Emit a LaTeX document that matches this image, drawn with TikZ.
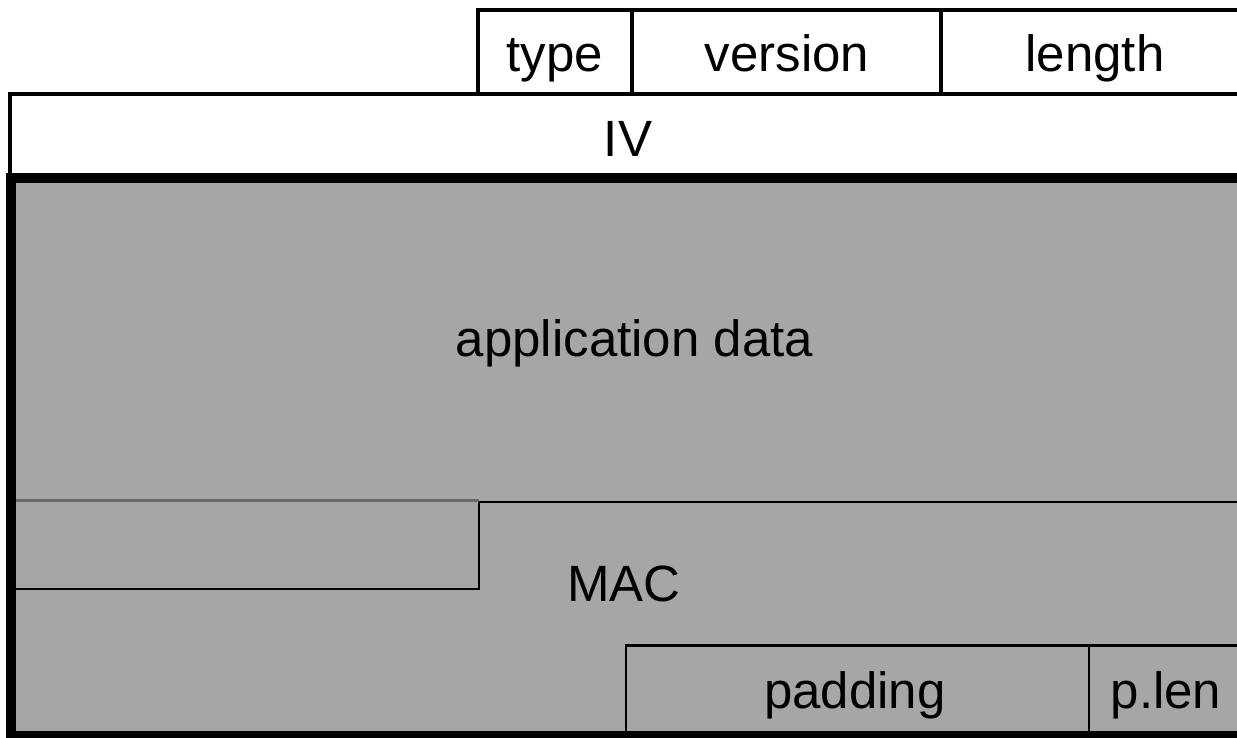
\documentclass[tikz,border=0pt]{standalone}
\usepackage{fontspec}
\setmainfont{Liberation Sans}
\definecolor{cellgray}{RGB}{166,166,166}
\definecolor{seamgray}{RGB}{105,105,105}
\begin{document}
\begin{tikzpicture}[x=0.5pt,y=-0.5pt,
  rule/.style={line width=1.8pt,line join=miter},
  heavy/.style={line width=4.6pt,line join=miter},
  seam/.style={line width=1.4pt},
  lbl/.style={font=\fontsize{25.5pt}{30pt}\selectfont,inner sep=0pt,anchor=base}]
\useasboundingbox (0,0) rectangle (1237,738);
\clip (0,0) rectangle (1237,738);

% header fields: type | version | length
\draw[rule,fill=white] (478,10) rectangle (1252,94);
\draw[rule] (632,10) -- (632,94);
\draw[rule] (941,10) -- (941,94);

% IV row
\draw[rule,fill=white] (10,94) rectangle (1252,178);

% encrypted part
\draw[heavy,fill=cellgray] (11,178) rectangle (1256,736);

% boundary between application data and MAC
\draw[seam,seamgray] (16,500.5) -- (479,500.5);
\draw[seam] (479,502) -- (1240,502);
\draw[seam] (479,502) -- (479,589) -- (16,589);

% padding and padding length
\draw[seam] (626,736) -- (626,645.5) -- (1240,645.5);
\draw[seam] (1089,645.5) -- (1089,736);

% labels
\node[lbl] (type)    at (555,72)   {type};
\node[lbl] (version) at (787,72)   {version};
\node[lbl] (length)  at (1095,72)  {length};
\node[lbl] (iv)      at (628,156)  {IV};
\node[lbl] (appdata) at (634.5,356) {application data};
\node[lbl] (mac)     at (624,601)  {MAC};
\node[lbl] (padding) at (855,708)  {padding};
\node[lbl] (plen)    at (1166,708) {p.len};
\end{tikzpicture}
\end{document}
